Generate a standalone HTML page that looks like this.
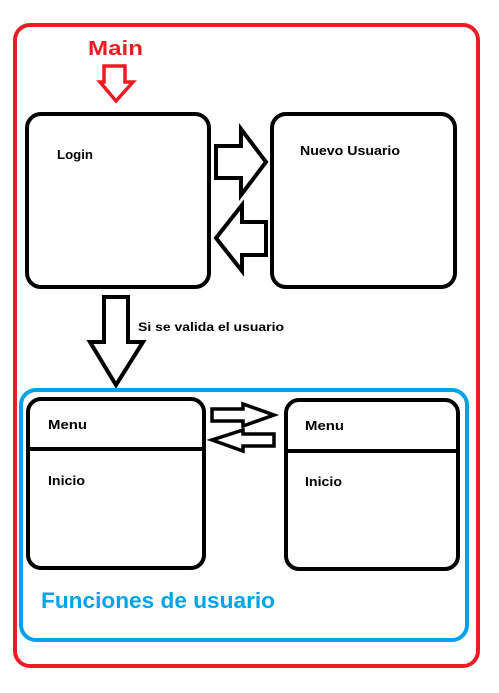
<!DOCTYPE html>
<html><head><meta charset="utf-8"><style>
html,body{margin:0;padding:0;background:#fff;}
svg{display:block;}
text{font-family:"Liberation Sans",sans-serif;font-weight:bold;}
</style></head><body>
<svg width="499" height="693" viewBox="0 0 499 693" xmlns="http://www.w3.org/2000/svg">
<rect x="15" y="25" width="463" height="641" rx="15" fill="none" stroke="#ed1c24" stroke-width="4"/>
<text x="88" y="55" font-size="20" fill="#ed1c24" textLength="55" lengthAdjust="spacingAndGlyphs">Main</text>
<polygon points="104,66 125,66 125,82 133,82 116,101 100,82 104,82" fill="none" stroke="#ed1c24" stroke-width="3.5" stroke-linejoin="miter"/>
<rect x="27" y="114" width="182" height="173" rx="14" fill="none" stroke="#000" stroke-width="4"/>
<rect x="272" y="114" width="183" height="173" rx="14" fill="none" stroke="#000" stroke-width="4"/>
<text x="57" y="159" font-size="13" fill="#000" textLength="36" lengthAdjust="spacingAndGlyphs">Login</text>
<text x="300" y="155" font-size="13" fill="#000" textLength="100" lengthAdjust="spacingAndGlyphs">Nuevo Usuario</text>
<polygon points="216,146 241,146 241,129 266,162 241,195 241,178 216,178" fill="none" stroke="#000" stroke-width="4"/>
<polygon points="266,222 242,222 242,205 216,238 242,271 242,255 266,255" fill="none" stroke="#000" stroke-width="4"/>
<polygon points="104,297 128,297 128,342 143,342 116,385 90,342 104,342" fill="none" stroke="#000" stroke-width="4"/>
<text x="138" y="331" font-size="12" fill="#000" textLength="146" lengthAdjust="spacingAndGlyphs">Si se valida el usuario</text>
<rect x="21" y="390" width="446" height="250" rx="15" fill="none" stroke="#00a2e8" stroke-width="4"/>
<rect x="28" y="399" width="176" height="169" rx="13" fill="none" stroke="#000" stroke-width="4"/>
<line x1="28" y1="449" x2="204" y2="449" stroke="#000" stroke-width="4"/>
<rect x="286" y="400" width="172" height="169" rx="13" fill="none" stroke="#000" stroke-width="4"/>
<line x1="286" y1="451" x2="458" y2="451" stroke="#000" stroke-width="4"/>
<text x="48" y="429" font-size="13" fill="#000" textLength="39" lengthAdjust="spacingAndGlyphs">Menu</text>
<text x="48" y="485" font-size="13" fill="#000" textLength="37" lengthAdjust="spacingAndGlyphs">Inicio</text>
<text x="305" y="430" font-size="13" fill="#000" textLength="39" lengthAdjust="spacingAndGlyphs">Menu</text>
<text x="305" y="486" font-size="13" fill="#000" textLength="37" lengthAdjust="spacingAndGlyphs">Inicio</text>
<polygon points="212,409 243,409 243,404 274,415 243,426 243,421 212,421" fill="none" stroke="#000" stroke-width="3.5"/>
<polygon points="274,434 243,434 243,430 212,440 243,451 243,446 274,446" fill="none" stroke="#000" stroke-width="3.5"/>
<text x="41" y="608" font-size="22" fill="#00a2e8" textLength="234" lengthAdjust="spacingAndGlyphs">Funciones de usuario</text>
</svg>
</body></html>
